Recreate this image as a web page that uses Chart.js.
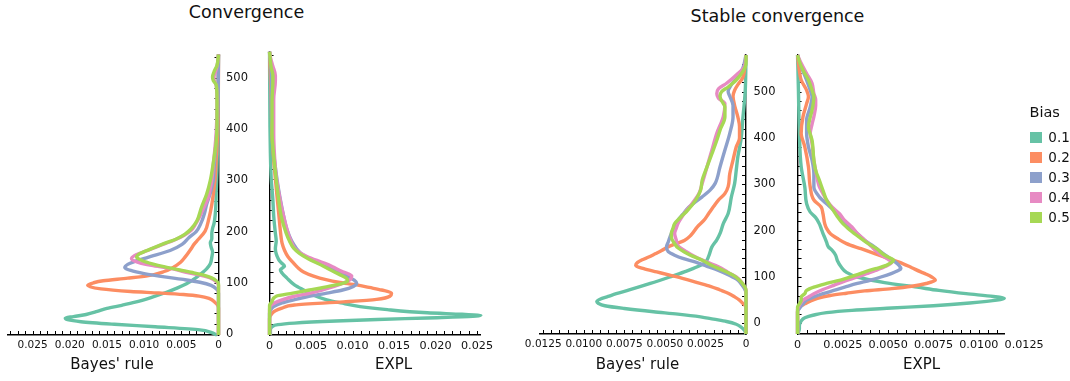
<!DOCTYPE html>
<html><head><meta charset="utf-8">
<script src="https://cdn.jsdelivr.net/npm/chart.js@4.4.1/dist/chart.umd.min.js"></script>
<style>
body{margin:0;background:#fff;width:1070px;height:381px;overflow:hidden;position:relative;font-family:"DejaVu Sans",sans-serif;color:#111}
canvas{position:absolute}
.t{position:absolute;white-space:nowrap;line-height:1;transform:translateX(-50%)}
.l{position:absolute;white-space:nowrap;line-height:1}
.sw{position:absolute;width:12.3px;height:11px}
</style></head><body>
<canvas id="cA" width="262" height="341" style="left:0;top:40px"></canvas>
<canvas id="cB" width="250" height="341" style="left:262px;top:40px"></canvas>
<canvas id="cC" width="278" height="341" style="left:512px;top:40px"></canvas>
<canvas id="cD" width="260" height="341" style="left:790px;top:40px"></canvas>
<div class="t" style="left:246.5px;top:3.7px;font-size:17.5px">Convergence</div>
<div class="t" style="left:777.5px;top:7.6px;font-size:17.5px">Stable convergence</div>
<div class="t" style="left:112px;top:357.2px;font-size:15px">Bayes' rule</div>
<div class="t" style="left:393.5px;top:357.2px;font-size:15px">EXPL</div>
<div class="t" style="left:637.5px;top:357.2px;font-size:15px">Bayes' rule</div>
<div class="t" style="left:921.5px;top:357.2px;font-size:15px">EXPL</div>
<div id="legend"></div>
<script>
// ---- categories ----
const legendTitle = 'Bias';
const biasLevels = ['0.1', '0.2', '0.3', '0.4', '0.5'];

// ---- tick labels ----
const convTickVals = [0, 0.005, 0.01, 0.015, 0.02, 0.025];
const convTickLabels = ['0', '0.005', '0.010', '0.015', '0.020', '0.025'];
const stableTickVals = [0, 0.0025, 0.005, 0.0075, 0.01, 0.0125];
const stableTickLabels = ['0', '0.0025', '0.0050', '0.0075', '0.0100', '0.0125'];
const yTickVals = [0, 100, 200, 300, 400, 500];
const yTickLabels = ['0', '100', '200', '300', '400', '500'];

// ---- series values: [value, density] ----
// Convergence, Bayes' rule
const convBayes01 = [[-2,0.0002],[3,0.001],[8,0.0025],[14,0.0085],[19,0.014],[24,0.0185],[28,0.0203],[31,0.0206],[34,0.0195],[38,0.0178],[44,0.0163],[50,0.015],[56,0.013],[62,0.0112],[72,0.0089],[82,0.0069],[90,0.0055],[98,0.0043],[108,0.0032],[117,0.0024],[127,0.0016],[137,0.0011],[150,0.0009],[160,0.0008],[170,0.001],[178,0.0011],[186,0.0009],[196,0.0009],[206,0.0008],[216,0.0006],[240,0.0004],[280,0.0003],[320,0.0002],[400,0.0001],[480,0.00005],[546,0]];
const convBayes02 = [[-2,0],[50,0],[56,0.0001],[62,0.0005],[69,0.0012],[74,0.0026],[77,0.0047],[80,0.008],[83,0.0118],[88,0.0158],[95,0.0176],[100,0.0168],[104,0.0155],[109,0.0122],[114,0.0094],[122,0.0073],[130,0.0061],[140,0.0051],[150,0.0045],[166,0.0037],[175,0.0033],[185,0.0027],[201,0.0018],[225,0.0013],[253,0.0009],[298,0.0005],[344,0.0003],[400,0.0001],[460,0.00003],[546,0]];
const convBayes03 = [[-2,0],[80,0],[88,0.0003],[95,0.001],[101,0.0025],[106,0.0045],[111,0.007],[118,0.01],[124,0.0118],[130,0.0126],[136,0.0122],[141,0.0114],[150,0.0094],[163,0.0065],[175,0.0049],[188,0.004],[200,0.003],[215,0.0024],[235,0.0019],[253,0.0016],[275,0.0011],[300,0.0007],[325,0.0006],[343,0.0005],[380,0.0003],[430,0.0001],[546,0]];
const convBayes04 = [[-2,0],[95,0],[102,0.0003],[110,0.0012],[116,0.0028],[121,0.0045],[128,0.0065],[134,0.009],[140,0.0108],[147,0.0117],[153,0.0113],[158,0.0105],[165,0.0092],[172,0.008],[183,0.006],[193,0.0046],[202,0.0037],[214,0.0031],[230,0.0025],[246,0.002],[265,0.0014],[285,0.0011],[300,0.0009],[330,0.0007],[360,0.0005],[395,0.0003],[450,0.0002],[485,0.0003],[497,0.0006],[503,0.0006],[512,0.0004],[530,0.0001],[546,0]];
const convBayes05 = [[-2,0],[98,0],[104,0.0003],[110,0.001],[115,0.002],[120,0.0035],[125,0.0052],[131,0.0072],[137,0.0089],[143,0.0102],[150,0.011],[156,0.0107],[162,0.0098],[168,0.0088],[175,0.0076],[186,0.0056],[195,0.0045],[205,0.0037],[221,0.0029],[247,0.0023],[273,0.0016],[300,0.0011],[344,0.0006],[376,0.0003],[420,0.0002],[460,0.0002],[486,0.0003],[495,0.0007],[502,0.0008],[512,0.0006],[525,0.0002],[546,0]];
// Convergence, EXPL
const convExpl01 = [[-2,0.0001],[8,0.0001],[14,0.0003],[18,0.001],[21,0.003],[25,0.008],[28,0.013],[31,0.019],[34,0.0245],[36,0.0254],[38,0.0232],[41,0.019],[47,0.0142],[53,0.0109],[60,0.0086],[66,0.0069],[75,0.0053],[85,0.0041],[95,0.003],[108,0.0021],[118,0.0015],[124,0.0013],[131,0.0018],[138,0.0014],[144,0.0011],[155,0.0008],[165,0.0007],[180,0.0008],[195,0.0007],[210,0.0006],[228,0.0005],[260,0.0004],[300,0.0002],[350,0.0001],[400,0.00005],[546,0]];
const convExpl02 = [[-2,0],[30,0],[40,0.0003],[45,0.0007],[50,0.0015],[56,0.003],[62,0.0089],[67,0.0129],[73,0.0145],[79,0.0147],[85,0.0135],[90,0.012],[95,0.0105],[100,0.0083],[105,0.0068],[112,0.0053],[120,0.0041],[130,0.0033],[137,0.0029],[150,0.0022],[162,0.0018],[176,0.0015],[200,0.0013],[234,0.0011],[266,0.0009],[300,0.0007],[337,0.0005],[389,0.0003],[450,0.0002],[500,0.0001],[546,0]];
const convExpl03 = [[-2,0],[40,0],[48,0.0002],[53,0.0005],[60,0.0015],[66,0.0029],[72,0.0045],[79,0.0069],[85,0.0088],[92,0.0101],[98,0.0105],[104,0.0102],[112,0.0093],[122,0.008],[131,0.0068],[144,0.005],[157,0.0037],[176,0.0028],[202,0.0021],[228,0.0017],[260,0.0013],[299,0.0009],[350,0.0005],[400,0.0003],[450,0.0002],[500,0.0002],[546,0]];
const convExpl04 = [[-2,0],[48,0],[57,0.0003],[66,0.0015],[73,0.003],[79,0.0049],[86,0.0065],[92,0.0078],[99,0.009],[105,0.0097],[112,0.0099],[117,0.0094],[121,0.0087],[130,0.0076],[137,0.0066],[150,0.0045],[163,0.0032],[183,0.0025],[208,0.002],[234,0.0016],[266,0.0012],[305,0.0008],[344,0.0006],[389,0.0005],[454,0.0005],[490,0.0007],[500,0.0007],[518,0.0004],[535,0.0001],[546,0]];
const convExpl05 = [[-2,0],[55,0],[63,0.0003],[73,0.0008],[79,0.0028],[85,0.0048],[89,0.0062],[94,0.0077],[98,0.0088],[102,0.0094],[107,0.0093],[112,0.0088],[121,0.0077],[131,0.0065],[147,0.0045],[156,0.0036],[166,0.0029],[180,0.0024],[195,0.002],[228,0.0014],[260,0.0011],[299,0.0008],[344,0.0005],[389,0.0003],[450,0.0003],[490,0.0004],[500,0.0004],[515,0.0002],[546,0]];
// Stable convergence, Bayes' rule
const stabBayes01 = [[-23,0],[-15,0.0001],[-8,0.0003],[-2,0.0006],[4,0.0012],[9,0.002],[14,0.0028],[20,0.0042],[25,0.0057],[32,0.0075],[38,0.0087],[43,0.0091],[47,0.0092],[52,0.009],[58,0.0085],[64,0.008],[72,0.0072],[86,0.0059],[100,0.0047],[111,0.0038],[122,0.003],[132,0.0025],[145,0.0023],[165,0.0021],[180,0.0018],[194,0.0016],[215,0.0014],[237,0.0011],[273,0.0009],[302,0.0007],[331,0.0006],[360,0.0005],[398,0.0003],[440,0.0002],[500,0.00005],[579,0]];
const stabBayes02 = [[-23,0],[35,0],[43,0.0002],[50,0.0004],[57,0.0007],[65,0.0011],[72,0.0016],[80,0.0022],[88,0.003],[96,0.0038],[104,0.0047],[111,0.0055],[118,0.0063],[125,0.0068],[131,0.0067],[137,0.0064],[143,0.006],[150,0.0056],[157,0.0052],[165,0.0048],[172,0.0043],[179,0.0038],[190,0.0034],[208,0.003],[222,0.0026],[237,0.0023],[252,0.002],[266,0.0017],[280,0.0013],[295,0.0011],[323,0.001],[352,0.0008],[381,0.0006],[400,0.0004],[424,0.0004],[445,0.0005],[470,0.0007],[490,0.0008],[503,0.0007],[515,0.0005],[530,0.0002],[545,0.0001],[579,0]];
const stabBayes03 = [[-23,0],[65,0],[75,0.0001],[85,0.0003],[93,0.0005],[103,0.001],[114,0.0017],[123,0.0024],[132,0.0031],[140,0.0039],[147,0.0044],[155,0.0048],[165,0.0049],[175,0.0048],[185,0.0047],[194,0.0046],[210,0.0044],[222,0.0042],[235,0.0039],[248,0.0036],[260,0.0032],[273,0.0027],[288,0.0022],[302,0.0019],[338,0.0016],[374,0.0013],[410,0.001],[446,0.0008],[470,0.0008],[490,0.001],[500,0.0011],[515,0.0009],[532,0.0005],[550,0.0002],[579,0]];
const stabBayes04 = [[-23,0],[72,0],[80,0.0001],[90,0.0003],[100,0.0006],[110,0.0011],[122,0.0017],[132,0.0024],[143,0.0031],[155,0.0037],[168,0.0042],[180,0.0043],[194,0.0044],[205,0.0043],[215,0.0042],[237,0.0038],[255,0.0034],[280,0.0029],[302,0.0027],[338,0.0024],[374,0.0021],[410,0.0018],[446,0.0014],[474,0.0013],[486,0.0017],[496,0.0018],[506,0.0017],[518,0.0012],[536,0.0006],[554,0.0001],[579,0]];
const stabBayes05 = [[-23,0],[72,0],[80,0.0001],[93,0.0004],[104,0.0008],[114,0.0014],[125,0.0021],[136,0.0027],[145,0.0033],[154,0.0038],[163,0.0042],[172,0.0044],[186,0.0046],[194,0.0046],[205,0.0045],[215,0.0044],[230,0.004],[244,0.0036],[266,0.0031],[287,0.0028],[309,0.0027],[338,0.0024],[366,0.0021],[395,0.0018],[417,0.0016],[446,0.0013],[467,0.0013],[480,0.0015],[490,0.0016],[500,0.0015],[510,0.0011],[525,0.0006],[543,0.0002],[560,0],[579,0]];
// Stable convergence, EXPL
const stabExpl01 = [[-23,0],[-12,0.0001],[-5,0.0001],[5,0.0002],[12,0.0004],[18,0.0009],[23,0.0016],[28,0.003],[33,0.0052],[38,0.0075],[44,0.0095],[50,0.011],[54,0.0114],[58,0.0108],[64,0.0093],[71,0.0078],[78,0.0066],[88,0.0048],[100,0.0033],[110,0.0027],[122,0.0024],[135,0.0022],[147,0.0021],[158,0.0019],[165,0.0017],[175,0.0016],[185,0.0015],[194,0.0014],[205,0.0013],[215,0.0012],[228,0.001],[240,0.0007],[258,0.0005],[294,0.0004],[338,0.0002],[410,0.0001],[500,0.00005],[579,0]];
const stabExpl02 = [[-23,0],[25,0],[35,0.0001],[42,0.0004],[48,0.0007],[54,0.0011],[60,0.0018],[65,0.0027],[70,0.0037],[75,0.0052],[80,0.0063],[86,0.0071],[93,0.0076],[100,0.0074],[106,0.0071],[111,0.0068],[120,0.0063],[129,0.0058],[140,0.005],[150,0.0043],[161,0.0035],[172,0.0027],[183,0.0022],[194,0.0018],[205,0.0016],[215,0.0015],[237,0.0014],[251,0.0013],[266,0.0009],[294,0.0007],[338,0.0006],[381,0.0004],[410,0.0002],[446,0.0003],[474,0.0005],[489,0.0006],[503,0.0005],[525,0.0002],[545,0.0001],[579,0]];
const stabExpl03 = [[-23,0],[25,0],[32,0.0001],[42,0.0003],[50,0.0005],[57,0.0009],[64,0.0014],[71,0.002],[78,0.0026],[86,0.0033],[93,0.004],[100,0.0046],[108,0.0052],[113,0.0055],[118,0.0057],[125,0.0056],[132,0.0054],[143,0.005],[154,0.0046],[166,0.0042],[179,0.0037],[197,0.0032],[215,0.0027],[230,0.0023],[244,0.002],[258,0.0016],[273,0.0012],[294,0.0009],[323,0.0009],[352,0.0008],[381,0.0006],[410,0.0005],[438,0.0005],[467,0.0007],[489,0.0008],[503,0.0007],[525,0.0005],[554,0.0002],[579,0]];
const stabExpl04 = [[-23,0],[30,0],[39,0.0001],[50,0.0003],[57,0.0006],[64,0.0009],[73,0.0014],[82,0.002],[91,0.0026],[100,0.0033],[107,0.0038],[114,0.0043],[122,0.0048],[132,0.0052],[138,0.005],[143,0.0048],[154,0.0044],[165,0.0041],[180,0.0037],[194,0.0033],[208,0.003],[222,0.0026],[237,0.0023],[251,0.0019],[266,0.0016],[280,0.0014],[295,0.0012],[309,0.0011],[330,0.001],[352,0.0009],[388,0.0008],[410,0.0007],[430,0.0008],[446,0.0009],[470,0.001],[482,0.001],[496,0.0009],[518,0.0008],[539,0.0005],[561,0.0002],[579,0]];
const stabExpl05 = [[-23,0],[35,0],[42,0.0001],[50,0.0002],[57,0.0002],[64,0.0004],[71,0.0005],[78,0.0009],[86,0.0016],[95,0.0025],[104,0.0032],[112,0.0038],[118,0.0043],[125,0.0049],[132,0.0052],[136,0.0053],[141,0.0051],[147,0.0048],[160,0.0044],[172,0.0039],[186,0.0034],[201,0.0029],[215,0.0025],[230,0.0022],[248,0.0019],[266,0.0016],[287,0.0014],[309,0.0012],[330,0.001],[352,0.0009],[395,0.0008],[424,0.0006],[445,0.0007],[460,0.0008],[489,0.0009],[503,0.0008],[525,0.0006],[546,0.0003],[565,0.0001],[579,0]];

const colors = ['#66c2a5', '#fc8d62', '#8da0cb', '#e78ac3', '#a6d854'];
const FONT = 'DejaVu Sans';

function minorList(lo, hi, step) {
  const out = [];
  for (let k = Math.ceil(lo / step - 1e-9); k * step <= hi + 1e-12; k++) out.push(+(k * step).toFixed(6));
  return out;
}

// small tick marks drawn inside the plot area, under the curves
const innerTicks = {
  id: 'innerTicks',
  beforeDatasetsDraw(chart) {
    const ctx = chart.ctx;
    const cfg = chart.config.options.tickCfg;
    const area = chart.chartArea;
    const sx = chart.scales.x, sy = chart.scales.y;
    const L = 4;
    ctx.save();
    ctx.strokeStyle = '#000';
    ctx.lineWidth = 1;
    minorList(0, cfg.xmax, cfg.minor).forEach(v => {
      const p = Math.round(sx.getPixelForValue(v)) + 0.5;
      ctx.beginPath(); ctx.moveTo(p, area.bottom); ctx.lineTo(p, area.bottom - L); ctx.stroke();
    });
    minorList(cfg.ymin, cfg.ymax, 20).forEach(v => {
      const p = Math.round(sy.getPixelForValue(v)) + 0.5;
      ctx.beginPath();
      if (cfg.yPos === 'right') { ctx.moveTo(area.right, p); ctx.lineTo(area.right - L, p); }
      else { ctx.moveTo(area.left, p); ctx.lineTo(area.left + L, p); }
      ctx.stroke();
    });
    ctx.restore();
  }
};

function lookup(vals, labels, v) {
  const k = vals.findIndex(a => Math.abs(a - v) < 1e-9);
  return k >= 0 ? labels[k] : null;
}

function makePanel(id, series, cfg) {
  new Chart(document.getElementById(id), {
    type: 'line',
    data: {
      datasets: series.map((pts, i) => ({
        label: biasLevels[i],
        data: pts.map(p => ({ x: p[1], y: p[0] })),
        borderColor: colors[i],
        backgroundColor: colors[i],
        borderWidth: 3.4,
        pointRadius: 0,
        fill: false,
        cubicInterpolationMode: 'monotone',
        clip: false,
        order: series.length - 1 - i
      }))
    },
    options: {
      tickCfg: cfg,
      responsive: false,
      animation: false,
      devicePixelRatio: 1,
      indexAxis: 'y',
      layout: { padding: cfg.padding },
      plugins: { legend: { display: false }, tooltip: { enabled: false }, title: { display: false } },
      scales: {
        x: {
          type: 'linear', min: 0, max: cfg.xmax, reverse: cfg.reverse, bounds: 'data',
          grid: { display: false, drawTicks: false },
          border: { display: true, color: '#000', width: 1.4 },
          afterBuildTicks: s => {
            const m = new Map();
            minorList(0, cfg.xmax, cfg.minor).forEach(v => m.set(v.toFixed(6), v));
            cfg.xVals.forEach(v => m.set(v.toFixed(6), v));
            const arr = [...m.values()].sort((a, b) => cfg.reverse ? b - a : a - b);
            s.ticks = arr.map(v => ({ value: v }));
          },
          afterFit: s => { s.height = cfg.xh; },
          ticks: {
            autoSkip: false, maxRotation: 0, minRotation: 0, padding: 4, color: '#111',
            font: { family: FONT, size: cfg.xFont },
            callback: v => lookup(cfg.xVals, cfg.xLabels, v)
          }
        },
        y: {
          type: 'linear', position: cfg.yPos, min: cfg.ymin, max: cfg.ymax, bounds: 'data',
          grid: { display: false, drawTicks: false },
          border: { display: true, color: '#000', width: 1.4 },
          afterBuildTicks: s => {
            s.ticks = minorList(cfg.ymin, cfg.ymax, 20).map(v => ({ value: v }));
          },
          afterFit: s => { s.width = cfg.yw; },
          ticks: {
            display: cfg.yLabels, autoSkip: false, padding: 7.5, color: '#111',
            font: { family: FONT, size: 11.5 },
            callback: v => lookup(yTickVals, yTickLabels, v)
          }
        }
      }
    },
    plugins: [innerTicks]
  });
}

makePanel('cA', [convBayes01, convBayes02, convBayes03, convBayes04, convBayes05], {
  padding: { left: 8, top: 11.7, right: 0, bottom: 0 }, xh: 46, yw: 43.5, yPos: 'right', yLabels: true, xFont: 10.5,
  ymin: -2, ymax: 546, xmax: 0.0283, reverse: true, minor: 0.001, xVals: convTickVals, xLabels: convTickLabels
});
makePanel('cB', [convExpl01, convExpl02, convExpl03, convExpl04, convExpl05], {
  padding: { left: 7.5, top: 11.7, right: 32, bottom: 0 }, xh: 46, yw: 0, yPos: 'left', yLabels: false, xFont: 11.2,
  ymin: -2, ymax: 546, xmax: 0.02536, reverse: false, minor: 0.001, xVals: convTickVals, xLabels: convTickLabels
});
makePanel('cC', [stabBayes01, stabBayes02, stabBayes03, stabBayes04, stabBayes05], {
  padding: { left: 28, top: 15, right: 0, bottom: 0 }, xh: 47, yw: 44, yPos: 'right', yLabels: true, xFont: 10.5,
  ymin: -23, ymax: 579, xmax: 0.0127, reverse: true, minor: 0.0005, xVals: stableTickVals, xLabels: stableTickLabels
});
makePanel('cD', [stabExpl01, stabExpl02, stabExpl03, stabExpl04, stabExpl05], {
  padding: { left: 6.7, top: 15, right: 46, bottom: 0 }, xh: 47, yw: 0, yPos: 'left', yLabels: false, xFont: 11.2,
  ymin: -23, ymax: 579, xmax: 0.01139, reverse: false, minor: 0.0005, xVals: stableTickVals, xLabels: stableTickLabels
});

// legend (HTML)
const lg = document.getElementById('legend');
let html = '<div class="l" style="left:1029.5px;top:105.3px;font-size:14.5px">' + legendTitle + '</div>';
biasLevels.forEach((b, i) => {
  html += '<div class="sw" style="left:1030px;top:' + (131.7 + 20 * i) + 'px;background:' + colors[i] + '"></div>';
  html += '<div class="l" style="left:1048.3px;top:' + (130.7 + 20 * i) + 'px;font-size:13.5px">' + b + '</div>';
});
lg.innerHTML = html;
</script>
</body></html>
